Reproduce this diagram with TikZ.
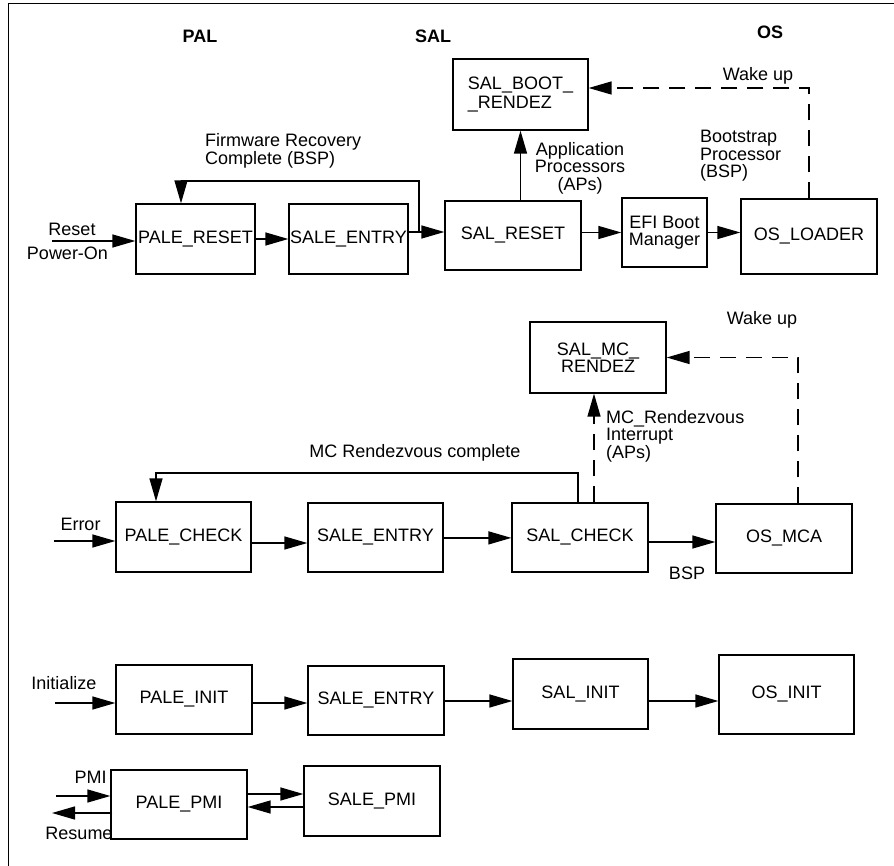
\documentclass[tikz,border=0pt]{standalone}
\usepackage{fontspec}
\setmainfont{Liberation Sans}
\usetikzlibrary{arrows.meta}
\newcommand{\dfont}{\fontsize{18pt}{19pt}\selectfont}
\newcommand{\dsfont}{\fontsize{18pt}{17.5pt}\selectfont}
\tikzset{
  box/.style={draw, line width=1.3pt, inner sep=0pt, font=\dfont, align=center},
  lbl/.style={inner sep=0pt, font=\dfont},
  slbl/.style={inner sep=0pt, font=\dsfont},
  hdr/.style={inner sep=0pt, font=\dfont\bfseries},
  arr/.style={line width=1.4pt, -{Triangle[length=23pt,width=13pt]}},
  darr/.style={arr, dash pattern=on 16pt off 10pt},
}
\begin{document}
\begin{tikzpicture}[x=1pt,y=-1pt]
\useasboundingbox (0,0) rectangle (894,866);
% frame
\draw[line width=1pt] (8,866) -- (8,4) -- (894,4);
% headers
\node[hdr] (hpal) at (200,36) {PAL};
\node[hdr] (hsal) at (433,36) {SAL};
\node[hdr] (hos) at (770,32) {OS};
% boxes row 1
\node[box, minimum width=119pt, minimum height=70pt] (palereset) at (195.5,239) {PALE\_RESET};
\node[box, minimum width=119pt, minimum height=70pt] (saleentry1) at (348.5,239) {SALE\_ENTRY};
\node[box, minimum width=136pt, minimum height=69pt] (salreset) at (513,235.5) {SAL\_RESET};
\node[box, minimum width=135pt, minimum height=71pt, align=left] (salboot) at (520.5,94.5) {SAL\_BOOT\_\\\_RENDEZ};
\node[box, minimum width=85pt, minimum height=69pt, font=\dsfont] (efi) at (664.5,232.5) {EFI Boot\\Manager};
\node[box, minimum width=136pt, minimum height=75pt] (osloader) at (809,236.5) {OS\_LOADER};
% boxes row 2
\node[box, minimum width=136pt, minimum height=71pt, font=\dsfont] (salmc) at (598,357.5) {SAL\_MC\_\\RENDEZ};
\node[box, minimum width=135pt, minimum height=70pt] (palecheck) at (183.5,537) {PALE\_CHECK};
\node[box, minimum width=135pt, minimum height=69pt] (saleentry2) at (375.5,537.5) {SALE\_ENTRY};
\node[box, minimum width=136pt, minimum height=69pt] (salcheck) at (580,537.5) {SAL\_CHECK};
\node[box, minimum width=136pt, minimum height=69pt] (osmca) at (784,538.5) {OS\_MCA};
% boxes row 3
\node[box, minimum width=136pt, minimum height=69pt] (paleinit) at (184,699.5) {PALE\_INIT};
\node[box, minimum width=136pt, minimum height=69pt] (saleentry3) at (376,700.5) {SALE\_ENTRY};
\node[box, minimum width=135pt, minimum height=70pt] (salinit) at (580.5,694) {SAL\_INIT};
\node[box, minimum width=135pt, minimum height=79pt] (osinit) at (786.5,694.5) {OS\_INIT};
% boxes row 4
\node[box, minimum width=136pt, minimum height=69pt] (palepmi) at (179,804.5) {PALE\_PMI};
\node[box, minimum width=136pt, minimum height=70pt] (salepmi) at (372,801) {SALE\_PMI};

% labels
\node[lbl] (lreset) at (72,229) {Reset};
\node[lbl] (lpoweron) at (67.5,253) {Power-On};
\node[slbl, align=left, anchor=west] (lfirm) at (205,151) {Firmware Recovery\\Complete (BSP)};
\node[slbl, align=center] (lapp) at (580,168) {Application\\Processors\\(APs)};
\node[slbl, align=left, anchor=west] (lboot) at (700,156) {Bootstrap\\Processor\\(BSP)};
\node[lbl] (lwake1) at (758,76) {Wake up};
\node[lbl] (lwake2) at (762,320) {Wake up};
\node[lbl] (lmccomp) at (415,453) {MC Rendezvous complete};
\node[slbl, align=left, anchor=west] (lmcint) at (606,436) {MC\_Rendezvous\\Interrupt\\(APs)};
\node[lbl] (lbsp) at (687,573) {BSP};
\node[lbl] (lerror) at (80.5,524) {Error};
\node[lbl] (linit) at (64,683) {Initialize};
\node[lbl] (lpmi) at (90.5,777) {PMI};
\node[lbl] (lresume) at (79,833) {Resume};

% free ends
\coordinate (rst) at (52,241);
\coordinate (err) at (54,541);
\coordinate (ini) at (55,703);
\coordinate (pmi) at (56,796);
\coordinate (rsm) at (52,813);
\coordinate (fb1) at (419,232);
\coordinate (fbtop1) at (181,181);
\coordinate (fbtop2) at (156,473);

% row 1 connectors
\draw[arr] (rst) -- (rst -| palereset.west);
\draw[arr] (palereset) -- (saleentry1);
\draw[arr] ([yshift=7pt]saleentry1.east) -- ([yshift=3.5pt]salreset.west);
\draw[arr] (fb1) |- (fbtop1) -- (fbtop1 |- palereset.north);
\draw[arr] (salreset.north -| salboot.south) -- (salboot.south);
\draw[arr] (salreset.east |- efi.west) -- (efi.west);
\draw[arr] (efi.east) -- (efi.east -| osloader.west);
\draw[darr] (osloader.north) |- ([yshift=6.5pt]salboot.east);

% row 2 connectors
\draw[arr] (err) -- (err -| palecheck.west);
\draw[arr] ([yshift=-6pt]palecheck.east) -- ([yshift=-5.5pt]saleentry2.west);
\draw[arr] ([yshift=-0.4pt]saleentry2.east) -- ([yshift=-0.4pt]saleentry2.east -| salcheck.west);
\draw[arr] ([yshift=-4.5pt]salcheck.east) -- ([yshift=-3.5pt]osmca.west);
\draw[arr] ([xshift=-2pt]salcheck.north) |- (fbtop2) -- (fbtop2 |- palecheck.north);
\draw[darr] ([xshift=14pt]salcheck.north) -- ([xshift=-4pt]salmc.south);
\draw[darr] ([xshift=14pt]osmca.north) |- (salmc.east);

% row 3 connectors
\draw[arr] (ini) -- (ini -| paleinit.west);
\draw[arr] ([yshift=-3.5pt]paleinit.east) -- ([yshift=-2.5pt]saleentry3.west);
\draw[arr] ([yshift=-0.5pt]saleentry3.east) -- ([yshift=-7pt]salinit.west);
\draw[arr] ([yshift=-7pt]salinit.east) -- ([yshift=-6.5pt]osinit.west);

% row 4 connectors
\draw[arr] (pmi) -- (pmi -| palepmi.west);
\draw[arr] ([xshift=2pt]rsm -| palepmi.west) -- (rsm);
\draw[arr] ([yshift=10.5pt]palepmi.east) -- ([yshift=7pt]salepmi.west);
\draw[arr] ([yshift=-6pt]salepmi.west) -- ([yshift=-2.5pt]palepmi.east);
\end{tikzpicture}
\end{document}
